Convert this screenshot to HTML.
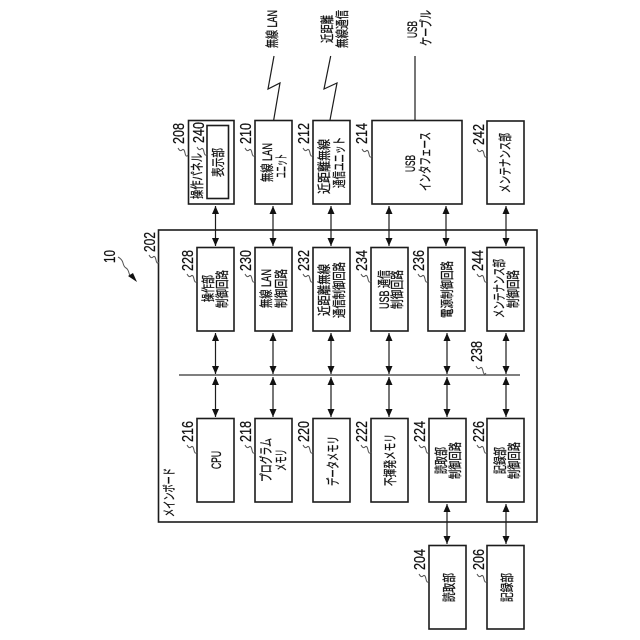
<!DOCTYPE html>
<html><head><meta charset="utf-8"><style>
html,body{margin:0;padding:0;background:#fff}
svg{display:block}
text{font-family:"Liberation Sans","Noto Sans CJK JP",sans-serif;font-size:13.5px;fill:#111;stroke:#111;stroke-width:.3}
.n text{font-size:16px;stroke-width:.25}
.b{fill:#fff;stroke:#1c1c1c;stroke-width:1.6}
.l{fill:none;stroke:#1c1c1c;stroke-width:1.2}
.s{fill:none;stroke:#555;stroke-width:1}
</style></head><body>
<svg width="640" height="640" viewBox="0 0 640 640" xmlns="http://www.w3.org/2000/svg">
<defs>
<marker id="a" viewBox="0 0 8 7" refX="8" refY="3.5" markerWidth="8" markerHeight="7" markerUnits="userSpaceOnUse" orient="auto-start-reverse"><path d="M0,0L8,3.5L0,7z" fill="#111"/></marker>
<path id="q" d="M0,0q2,4 4,2t3,3t3,2"/>
</defs>
<!-- main board -->
<rect class="b" x="158.5" y="230" width="378.5" height="292"/>
<!-- top row -->
<rect class="b" x="188.5" y="120.5" width="45.5" height="83.5"/>
<rect class="b" x="207" y="125.5" width="21.5" height="73"/>
<rect class="b" x="255" y="120.5" width="37" height="83.5"/>
<rect class="b" x="313" y="120.5" width="37" height="83.5"/>
<rect class="b" x="372" y="120.5" width="90" height="83.5"/>
<rect class="b" x="487" y="121" width="37" height="83"/>
<!-- middle row -->
<rect class="b" x="197" y="247.5" width="37" height="83.5"/>
<rect class="b" x="255" y="247.5" width="37" height="83.5"/>
<rect class="b" x="313" y="247.5" width="37" height="83.5"/>
<rect class="b" x="371" y="247.5" width="37" height="83.5"/>
<rect class="b" x="428" y="247.5" width="37" height="83.5"/>
<rect class="b" x="487" y="247.5" width="37" height="83.5"/>
<!-- lower row -->
<rect class="b" x="197" y="418.5" width="37" height="83.5"/>
<rect class="b" x="255" y="418.5" width="37" height="83.5"/>
<rect class="b" x="313" y="418.5" width="37" height="83.5"/>
<rect class="b" x="371" y="418.5" width="37" height="83.5"/>
<rect class="b" x="429" y="418.5" width="37" height="83.5"/>
<rect class="b" x="487" y="418.5" width="37" height="83.5"/>
<!-- bottom -->
<rect class="b" x="429" y="545.5" width="37" height="83.5"/>
<rect class="b" x="487" y="545.5" width="37" height="83.5"/>
<!-- bus -->
<line x1="179" y1="375" x2="520" y2="375" stroke="#333" stroke-width="1.2"/>
<!-- outer connectors -->
<path class="l" d="M274,56L268,89L280,83L273.7,120"/>
<path class="l" d="M330.7,56L324,89L337,83L330,120"/>
<path class="l" d="M415,56V120"/>
<!-- arrows -->
<g class="l">
<line x1="215.5" y1="206" x2="215.5" y2="246" marker-start="url(#a)" marker-end="url(#a)"/>
<line x1="273" y1="206" x2="273" y2="246" marker-start="url(#a)" marker-end="url(#a)"/>
<line x1="331" y1="206" x2="331" y2="246" marker-start="url(#a)" marker-end="url(#a)"/>
<line x1="389" y1="206" x2="389" y2="246" marker-start="url(#a)" marker-end="url(#a)"/>
<line x1="446" y1="206" x2="446" y2="246" marker-start="url(#a)" marker-end="url(#a)"/>
<line x1="506" y1="206" x2="506" y2="246" marker-start="url(#a)" marker-end="url(#a)"/>
<line x1="215.5" y1="333" x2="215.5" y2="374" marker-start="url(#a)" marker-end="url(#a)"/>
<line x1="273" y1="333" x2="273" y2="374" marker-start="url(#a)" marker-end="url(#a)"/>
<line x1="331" y1="333" x2="331" y2="374" marker-start="url(#a)" marker-end="url(#a)"/>
<line x1="389" y1="333" x2="389" y2="374" marker-start="url(#a)" marker-end="url(#a)"/>
<line x1="447" y1="333" x2="447" y2="374" marker-start="url(#a)" marker-end="url(#a)"/>
<line x1="506" y1="333" x2="506" y2="374" marker-start="url(#a)" marker-end="url(#a)"/>
<line x1="215.5" y1="377" x2="215.5" y2="417" marker-start="url(#a)" marker-end="url(#a)"/>
<line x1="273" y1="377" x2="273" y2="417" marker-start="url(#a)" marker-end="url(#a)"/>
<line x1="331" y1="377" x2="331" y2="417" marker-start="url(#a)" marker-end="url(#a)"/>
<line x1="389" y1="377" x2="389" y2="417" marker-start="url(#a)" marker-end="url(#a)"/>
<line x1="447" y1="377" x2="447" y2="417" marker-start="url(#a)" marker-end="url(#a)"/>
<line x1="506" y1="377" x2="506" y2="417" marker-start="url(#a)" marker-end="url(#a)"/>
<line x1="447" y1="504" x2="447" y2="544" marker-start="url(#a)" marker-end="url(#a)"/>
<line x1="506" y1="504" x2="506" y2="544" marker-start="url(#a)" marker-end="url(#a)"/>
</g>
<!-- squiggles -->
<g class="s">
<use href="#q" x="178" y="148"/><use href="#q" x="197" y="147"/><use href="#q" x="245" y="148"/><use href="#q" x="303" y="148"/><use href="#q" x="362" y="149"/><use href="#q" x="477" y="149"/>
<use href="#q" x="149" y="255"/><use href="#q" x="187" y="274"/><use href="#q" x="245" y="274"/><use href="#q" x="303" y="274"/><use href="#q" x="361" y="274"/><use href="#q" x="418" y="274"/><use href="#q" x="477" y="274"/><use href="#q" x="476" y="366"/>
<use href="#q" x="187" y="445"/><use href="#q" x="245" y="445"/><use href="#q" x="303" y="445"/><use href="#q" x="361" y="445"/><use href="#q" x="419" y="445"/><use href="#q" x="477" y="445"/>
<use href="#q" x="419" y="574"/><use href="#q" x="477" y="574"/>
</g>
<!-- 10 arrow -->
<path class="s" d="M118,257q4,2 5,6t3,5t3,5t4,5"/>
<path d="M137,282L128,276L133,273z" fill="#111"/>
<!-- reference numbers -->
<g class="n">
<text transform="translate(115,263) rotate(-90)" textLength="13" lengthAdjust="spacingAndGlyphs">10</text>
<text transform="translate(155,252) rotate(-90)" textLength="20" lengthAdjust="spacingAndGlyphs">202</text>
<text transform="translate(184,144) rotate(-90)" textLength="21" lengthAdjust="spacingAndGlyphs">208</text>
<text transform="translate(204,143) rotate(-90)" textLength="21" lengthAdjust="spacingAndGlyphs">240</text>
<text transform="translate(251,144) rotate(-90)" textLength="21" lengthAdjust="spacingAndGlyphs">210</text>
<text transform="translate(309,144) rotate(-90)" textLength="21" lengthAdjust="spacingAndGlyphs">212</text>
<text transform="translate(367,144) rotate(-90)" textLength="21" lengthAdjust="spacingAndGlyphs">214</text>
<text transform="translate(484,145) rotate(-90)" textLength="21" lengthAdjust="spacingAndGlyphs">242</text>
<text transform="translate(193,271) rotate(-90)" textLength="21" lengthAdjust="spacingAndGlyphs">228</text>
<text transform="translate(251,271) rotate(-90)" textLength="21" lengthAdjust="spacingAndGlyphs">230</text>
<text transform="translate(309,271) rotate(-90)" textLength="21" lengthAdjust="spacingAndGlyphs">232</text>
<text transform="translate(367,271) rotate(-90)" textLength="21" lengthAdjust="spacingAndGlyphs">234</text>
<text transform="translate(424,271) rotate(-90)" textLength="21" lengthAdjust="spacingAndGlyphs">236</text>
<text transform="translate(483,271) rotate(-90)" textLength="21" lengthAdjust="spacingAndGlyphs">244</text>
<text transform="translate(482,362) rotate(-90)" textLength="21" lengthAdjust="spacingAndGlyphs">238</text>
<text transform="translate(193,442) rotate(-90)" textLength="21" lengthAdjust="spacingAndGlyphs">216</text>
<text transform="translate(251,442) rotate(-90)" textLength="21" lengthAdjust="spacingAndGlyphs">218</text>
<text transform="translate(309,442) rotate(-90)" textLength="21" lengthAdjust="spacingAndGlyphs">220</text>
<text transform="translate(367,442) rotate(-90)" textLength="21" lengthAdjust="spacingAndGlyphs">222</text>
<text transform="translate(425,442) rotate(-90)" textLength="21" lengthAdjust="spacingAndGlyphs">224</text>
<text transform="translate(484,442) rotate(-90)" textLength="21" lengthAdjust="spacingAndGlyphs">226</text>
<text transform="translate(425,570) rotate(-90)" textLength="21" lengthAdjust="spacingAndGlyphs">204</text>
<text transform="translate(484,570) rotate(-90)" textLength="21" lengthAdjust="spacingAndGlyphs">206</text>
</g>
<!-- labels -->
<text transform="translate(277,48) rotate(-90)" textLength="38" lengthAdjust="spacingAndGlyphs">無線 LAN</text>
<text transform="translate(332,43) rotate(-90)" textLength="28" lengthAdjust="spacingAndGlyphs">近距離</text>
<text transform="translate(347,48) rotate(-90)" textLength="38" lengthAdjust="spacingAndGlyphs">無線通信</text>
<text transform="translate(417,38) rotate(-90)" textLength="17" lengthAdjust="spacingAndGlyphs">USB</text>
<text transform="translate(431,46) rotate(-90)" textLength="36" lengthAdjust="spacingAndGlyphs">ケーブル</text>
<text transform="translate(202,199) rotate(-90)" textLength="46" lengthAdjust="spacingAndGlyphs">操作パネル</text>
<text transform="translate(223,177) rotate(-90)" textLength="29" lengthAdjust="spacingAndGlyphs">表示部</text>
<text transform="translate(272,182) rotate(-90)" textLength="39" lengthAdjust="spacingAndGlyphs">無線 LAN</text>
<text transform="translate(286,178) rotate(-90)" textLength="24" lengthAdjust="spacingAndGlyphs">ユニット</text>
<text transform="translate(329,194) rotate(-90)" textLength="55" lengthAdjust="spacingAndGlyphs">近距離無線</text>
<text transform="translate(344,188) rotate(-90)" textLength="51" lengthAdjust="spacingAndGlyphs">通信ユニット</text>
<text transform="translate(415,172) rotate(-90)" textLength="17" lengthAdjust="spacingAndGlyphs">USB</text>
<text transform="translate(430,191) rotate(-90)" textLength="59" lengthAdjust="spacingAndGlyphs">インタフェース</text>
<text transform="translate(510,193) rotate(-90)" textLength="60" lengthAdjust="spacingAndGlyphs">メンテナンス部</text>
<text transform="translate(213,302) rotate(-90)" textLength="27" lengthAdjust="spacingAndGlyphs">操作部</text>
<text transform="translate(227,308) rotate(-90)" textLength="38" lengthAdjust="spacingAndGlyphs">制御回路</text>
<text transform="translate(271,308) rotate(-90)" textLength="39" lengthAdjust="spacingAndGlyphs">無線 LAN</text>
<text transform="translate(286,308) rotate(-90)" textLength="39" lengthAdjust="spacingAndGlyphs">制御回路</text>
<text transform="translate(329,316) rotate(-90)" textLength="52" lengthAdjust="spacingAndGlyphs">近距離無線</text>
<text transform="translate(344,318) rotate(-90)" textLength="56" lengthAdjust="spacingAndGlyphs">通信制御回路</text>
<text transform="translate(389,309) rotate(-90)" textLength="39" lengthAdjust="spacingAndGlyphs">USB 通信</text>
<text transform="translate(402,309) rotate(-90)" textLength="39" lengthAdjust="spacingAndGlyphs">制御回路</text>
<text transform="translate(452,318) rotate(-90)" textLength="57" lengthAdjust="spacingAndGlyphs">電源制御回路</text>
<text transform="translate(504,318) rotate(-90)" textLength="59" lengthAdjust="spacingAndGlyphs">メンテナンス部</text>
<text transform="translate(518,308) rotate(-90)" textLength="38" lengthAdjust="spacingAndGlyphs">制御回路</text>
<text transform="translate(221,469) rotate(-90)" textLength="18" lengthAdjust="spacingAndGlyphs">CPU</text>
<text transform="translate(271,482) rotate(-90)" textLength="44" lengthAdjust="spacingAndGlyphs">プログラム</text>
<text transform="translate(286,471) rotate(-90)" textLength="22" lengthAdjust="spacingAndGlyphs">メモリ</text>
<text transform="translate(338,486) rotate(-90)" textLength="50" lengthAdjust="spacingAndGlyphs">データメモリ</text>
<text transform="translate(395,486) rotate(-90)" textLength="52" lengthAdjust="spacingAndGlyphs">不揮発メモリ</text>
<text transform="translate(446,474) rotate(-90)" textLength="27" lengthAdjust="spacingAndGlyphs">読取部</text>
<text transform="translate(460,479) rotate(-90)" textLength="37" lengthAdjust="spacingAndGlyphs">制御回路</text>
<text transform="translate(505,474) rotate(-90)" textLength="27" lengthAdjust="spacingAndGlyphs">記録部</text>
<text transform="translate(519,479) rotate(-90)" textLength="37" lengthAdjust="spacingAndGlyphs">制御回路</text>
<text transform="translate(454,602) rotate(-90)" textLength="29" lengthAdjust="spacingAndGlyphs">読取部</text>
<text transform="translate(512,602) rotate(-90)" textLength="29" lengthAdjust="spacingAndGlyphs">記録部</text>
<text transform="translate(174,517) rotate(-90)" textLength="49" lengthAdjust="spacingAndGlyphs">メインボード</text>
</svg>
</body></html>
